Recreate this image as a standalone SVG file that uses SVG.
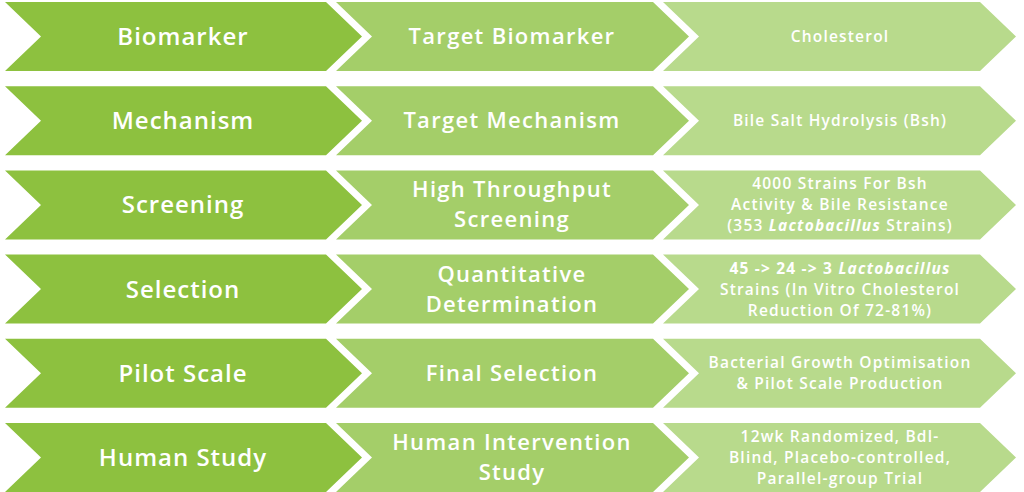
<svg xmlns="http://www.w3.org/2000/svg" xmlns:xlink="http://www.w3.org/1999/xlink" width="1024" height="492" viewBox="0 0 1024 492">
<defs>
<style>
text{font-family:"Open Sans","Noto Sans","Liberation Sans",sans-serif;fill:#ffffff;text-anchor:middle;font-weight:600}
.t1{font-size:24px;letter-spacing:1px}
.t2{font-size:22px;letter-spacing:1.3px}
.t3{font-size:15.5px;letter-spacing:1.2px}
.bi{font-weight:700;font-style:italic}
.b{font-weight:700}
</style>
<polygon id="c1" points="5,0 326,0 362,34.5 326,69 5,69 41,34.5" fill="#8dc13f"/>
<polygon id="c2" points="336,0 653,0 689,34.5 653,69 336,69 372,34.5" fill="#a4ce69"/>
<polygon id="c3" points="663,0 980,0 1016,34.5 980,69 663,69 699,34.5" fill="#b8da8c"/>
</defs>
<rect width="1024" height="492" fill="#ffffff"/>
<g id="connectors"/>
<g id="row1-biomarker"><use xlink:href="#c1" y="2"/><text class="t1" x="183" y="45">Biomarker</text></g>
<g id="row1-target-biomarker"><use xlink:href="#c2" y="2"/><text class="t2" x="512" y="44">Target Biomarker</text></g>
<g id="row1-cholesterol"><use xlink:href="#c3" y="2"/><text class="t3" x="840" y="42.2">Cholesterol</text></g>

<g id="row2-mechanism"><use xlink:href="#c1" y="86.2"/><text class="t1" x="183" y="129.2">Mechanism</text></g>
<g id="row2-target-mechanism"><use xlink:href="#c2" y="86.2"/><text class="t2" x="512" y="128.2">Target Mechanism</text></g>
<g id="row2-bsh"><use xlink:href="#c3" y="86.2"/><text class="t3" x="840" y="126.4">Bile Salt Hydrolysis (Bsh)</text></g>

<g id="row3-screening"><use xlink:href="#c1" y="170.4"/><text class="t1" x="183" y="213.4">Screening</text></g>
<g id="row3-hts"><use xlink:href="#c2" y="170.4"/><text class="t2" x="512" y="197.4">High Throughput</text><text class="t2" x="512" y="227.4">Screening</text></g>
<g id="row3-strains"><use xlink:href="#c3" y="170.4"/><text class="t3" x="840" y="189.4">4000 Strains For Bsh</text><text class="t3" x="840" y="210.4">Activity &amp; Bile Resistance</text><text class="t3" x="840" y="231.4">(353 <tspan class="bi">Lactobacillus</tspan> Strains)</text></g>

<g id="row4-selection"><use xlink:href="#c1" y="254.6"/><text class="t1" x="183" y="297.6">Selection</text></g>
<g id="row4-quant"><use xlink:href="#c2" y="254.6"/><text class="t2" x="512" y="281.6">Quantitative</text><text class="t2" x="512" y="311.6">Determination</text></g>
<g id="row4-reduction"><use xlink:href="#c3" y="254.6"/><text class="t3" x="840" y="273.6"><tspan class="b">45 -&gt; 24 -&gt; 3 </tspan><tspan class="bi">Lactobacillus</tspan></text><text class="t3" x="840" y="294.6">Strains (In Vitro Cholesterol</text><text class="t3" x="840" y="315.6">Reduction Of 72-81%)</text></g>

<g id="row5-pilot"><use xlink:href="#c1" y="338.8"/><text class="t1" x="183" y="381.8">Pilot Scale</text></g>
<g id="row5-final"><use xlink:href="#c2" y="338.8"/><text class="t2" x="512" y="380.8">Final Selection</text></g>
<g id="row5-growth"><use xlink:href="#c3" y="338.8"/><text class="t3" x="840" y="368.3">Bacterial Growth Optimisation</text><text class="t3" x="840" y="389.3">&amp; Pilot Scale Production</text></g>

<g id="row6-human"><use xlink:href="#c1" y="423"/><text class="t1" x="183" y="466">Human Study</text></g>
<g id="row6-intervention"><use xlink:href="#c2" y="423"/><text class="t2" x="512" y="450">Human Intervention</text><text class="t2" x="512" y="480">Study</text></g>
<g id="row6-trial"><use xlink:href="#c3" y="423"/><text class="t3" x="840" y="442">12wk Randomized, Bdl-</text><text class="t3" x="840" y="463">Blind, Placebo-controlled,</text><text class="t3" x="840" y="484">Parallel-group Trial</text></g>
</svg>
